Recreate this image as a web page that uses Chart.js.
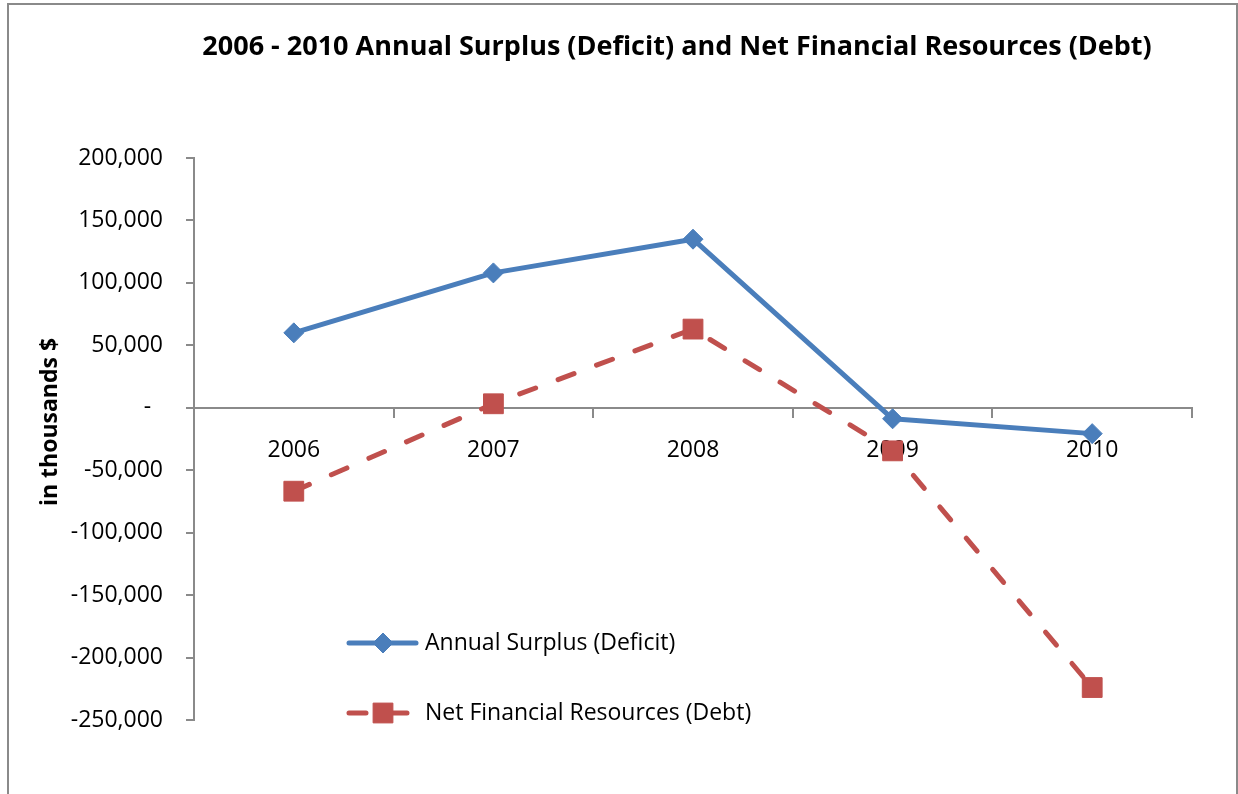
<!DOCTYPE html>
<html>
<head>
<meta charset="utf-8">
<title>Annual Surplus (Deficit) and Net Financial Resources (Debt)</title>
<script src="https://cdn.jsdelivr.net/npm/chart.js"></script>
<style>
  html, body { margin: 0; padding: 0; background: #fff; overflow: hidden; }
  #wrap { position: relative; width: 1238px; height: 794px; }
  #frame {
    position: absolute; left: 7px; top: 3px; width: 1227px; height: 830px;
    border: 2px solid #8a8a8a; pointer-events: none;
  }
  canvas { position: absolute; left: 0; top: 0; }
</style>
</head>
<body>
<div id="wrap">
  <canvas id="chart" width="1238" height="794"></canvas>
  <div id="frame"></div>
</div>
<script>
// values in thousands of dollars
const years = ['2006', '2007', '2008', '2009', '2010'];
const annualSurplus = [60000, 108000, 135000, -8800, -20700];
const netFinancialResources = [-66800, 3200, 63000, -34500, -224000];

const yMin = -250000;
const yMax = 200000;
const yStep = 50000;

const chartTitle = '2006 - 2010 Annual Surplus (Deficit) and Net Financial Resources (Debt)';
const yTitle = 'in thousands $';

const FONT = '"Open Sans", "Liberation Sans", Arial, sans-serif';
const AXIS_GREY = '#8a8a8a';
const BLUE = '#4a7ebb';
const RED = '#c0504d';

// title, rotated y title and the in-plot legend
const decorations = {
    id: 'decorations',
    afterDraw(chart) {
        const ctx = chart.ctx;
        ctx.save();
        ctx.fillStyle = '#000';

        ctx.font = 'bold 27px ' + FONT;
        ctx.textAlign = 'center';
        ctx.textBaseline = 'alphabetic';
        ctx.fillText(chartTitle, 677, 55);

        ctx.save();
        ctx.translate(50, 422);
        ctx.rotate(-Math.PI / 2);
        ctx.font = 'bold 23px ' + FONT;
        ctx.textBaseline = 'middle';
        ctx.fillText(yTitle, 0, 0);
        ctx.restore();

        const rows = [643, 713];
        chart.data.datasets.forEach((ds, i) => {
            const y = rows[i];
            ctx.save();
            ctx.strokeStyle = ds.borderColor;
            ctx.lineWidth = ds.borderWidth;
            ctx.lineCap = 'round';
            ctx.setLineDash(ds.borderDash || []);
            ctx.beginPath();
            ctx.moveTo(349, y);
            ctx.lineTo(416, y);
            ctx.stroke();
            ctx.restore();

            ctx.save();
            ctx.fillStyle = ds.pointBackgroundColor;
            ctx.strokeStyle = ds.pointBorderColor;
            Chart.helpers.drawPoint(ctx, {
                pointStyle: ds.pointStyle,
                radius: ds.pointRadius,
                rotation: 0,
                borderWidth: ds.pointBorderWidth
            }, 383, y);
            ctx.restore();

            ctx.font = '23px ' + FONT;
            ctx.textAlign = 'left';
            ctx.textBaseline = 'middle';
            ctx.fillStyle = '#000';
            ctx.fillText(ds.label, 425, y);
        });
        ctx.restore();
    }
};

const ctx = document.getElementById('chart').getContext('2d');
const chart = new Chart(ctx, {
    type: 'line',
    data: {
        labels: years,
        datasets: [
            {
                label: 'Annual Surplus (Deficit)',
                data: annualSurplus,
                borderColor: BLUE,
                borderWidth: 5,
                borderJoinStyle: 'round',
                pointStyle: 'rectRot',
                pointRadius: 10,
                pointBackgroundColor: BLUE,
                pointBorderColor: BLUE,
                pointBorderWidth: 1,
                tension: 0,
                fill: false
            },
            {
                label: 'Net Financial Resources (Debt)',
                data: netFinancialResources,
                borderColor: RED,
                borderWidth: 5,
                borderDash: [17, 24],
                borderCapStyle: 'round',
                pointStyle: 'rect',
                pointRadius: 14,
                pointBackgroundColor: RED,
                pointBorderColor: RED,
                pointBorderWidth: 1,
                tension: 0,
                fill: false
            }
        ]
    },
    options: {
        responsive: false,
        animation: false,
        layout: {
            padding: { top: 158, left: 0, right: 46, bottom: 74 }
        },
        scales: {
            x: {
                type: 'category',
                offset: true,
                position: { y: 0 },
                z: 1,
                afterFit: scale => { scale.height = 0; },
                grid: {
                    offset: true,
                    drawOnChartArea: false,
                    drawTicks: true,
                    tickLength: 9,
                    color: AXIS_GREY,
                    lineWidth: 2
                },
                border: { display: true, color: AXIS_GREY, width: 2 },
                ticks: {
                    color: '#000',
                    padding: 20,
                    maxRotation: 0,
                    font: { family: FONT, size: 23 }
                }
            },
            y: {
                min: yMin,
                max: yMax,
                afterFit: scale => { scale.width = 194; },
                grid: {
                    drawOnChartArea: false,
                    drawTicks: true,
                    tickLength: 8,
                    color: AXIS_GREY,
                    lineWidth: 2
                },
                border: { display: true, color: AXIS_GREY, width: 2 },
                ticks: {
                    stepSize: yStep,
                    color: '#000',
                    padding: 23,
                    font: { family: FONT, size: 23 },
                    callback: v => v === 0 ? '-  ' : v.toLocaleString('en-US')
                }
            }
        },
        plugins: {
            legend: { display: false },
            title: { display: false },
            tooltip: { enabled: false }
        }
    },
    plugins: [decorations]
});
</script>
</body>
</html>
